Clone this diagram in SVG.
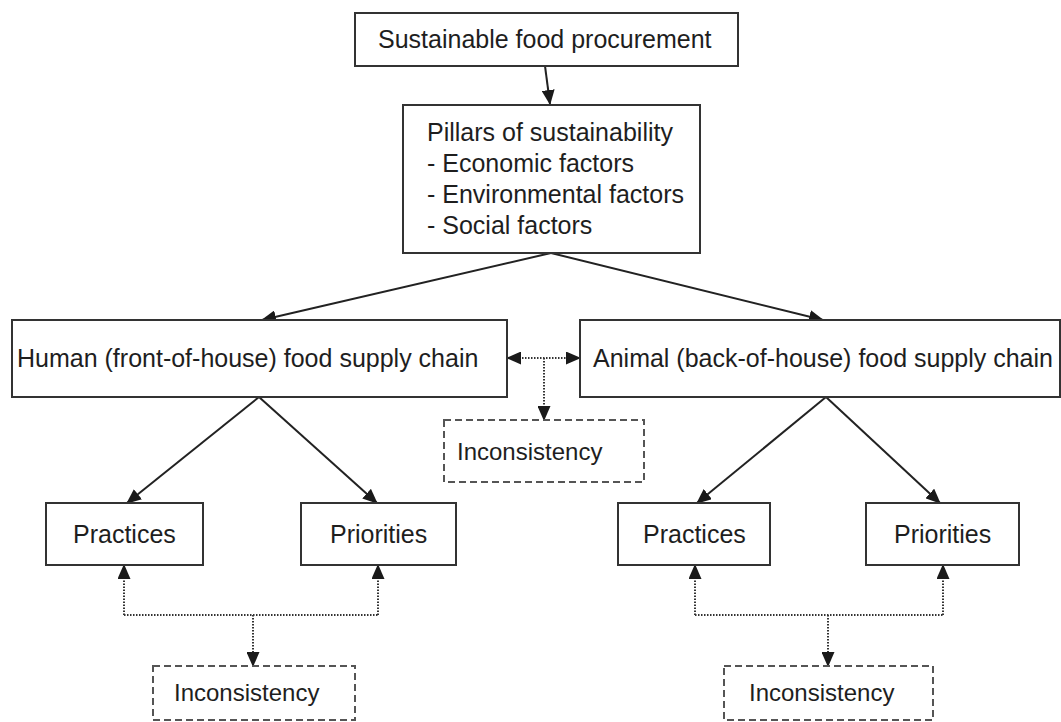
<svg xmlns="http://www.w3.org/2000/svg" width="1061" height="722" viewBox="0 0 1061 722">
<style>
.box{fill:#fff;stroke:#333;stroke-width:2}
.dbox{fill:#fff;stroke:#555;stroke-width:2;stroke-dasharray:7 4}
.t{font-family:"Liberation Sans",Arial,sans-serif;font-size:25px;fill:#1e1e1e}
.ti{font-family:"Liberation Sans",Arial,sans-serif;font-size:24px;fill:#1e1e1e}
.c{fill:none;stroke:#222;stroke-width:2}
.d{fill:none;stroke:#333;stroke-width:2;stroke-dasharray:1.5 1.5}
</style>
<defs>
<marker id="ah" markerUnits="userSpaceOnUse" markerWidth="15" markerHeight="13" refX="14" refY="6.5" orient="auto">
<path d="M0,0 L15,6.5 L0,13 z" fill="#1a1a1a"/>
</marker>
<marker id="ahs" markerUnits="userSpaceOnUse" markerWidth="15" markerHeight="13" refX="14" refY="6.5" orient="auto-start-reverse">
<path d="M0,0 L15,6.5 L0,13 z" fill="#1a1a1a"/>
</marker>
</defs>
<g id="connectors">
<line class="c" x1="545" y1="66" x2="550" y2="104" marker-end="url(#ah)"/>
<line class="c" x1="551" y1="253" x2="262" y2="320" marker-end="url(#ah)"/>
<line class="c" x1="551" y1="253" x2="823" y2="320" marker-end="url(#ah)"/>
<line class="c" x1="259" y1="397" x2="127" y2="503" marker-end="url(#ah)"/>
<line class="c" x1="259" y1="397" x2="377" y2="503" marker-end="url(#ah)"/>
<line class="c" x1="826" y1="397" x2="697" y2="503" marker-end="url(#ah)"/>
<line class="c" x1="826" y1="397" x2="940" y2="503" marker-end="url(#ah)"/>
<line class="d" x1="507" y1="358" x2="580" y2="358" marker-start="url(#ahs)" marker-end="url(#ahs)"/>
<line class="d" x1="544" y1="358" x2="544" y2="420" marker-end="url(#ah)"/>
<line class="d" x1="124" y1="615" x2="124" y2="565" marker-end="url(#ah)"/>
<line class="d" x1="378" y1="615" x2="378" y2="565" marker-end="url(#ah)"/>
<line class="d" x1="124" y1="615" x2="378" y2="615"/>
<line class="d" x1="253" y1="615" x2="253" y2="666" marker-end="url(#ah)"/>
<line class="d" x1="695" y1="615" x2="695" y2="565" marker-end="url(#ah)"/>
<line class="d" x1="943" y1="615" x2="943" y2="565" marker-end="url(#ah)"/>
<line class="d" x1="695" y1="615" x2="943" y2="615"/>
<line class="d" x1="828" y1="615" x2="828" y2="666" marker-end="url(#ah)"/>
</g>
<g id="n-top"><rect class="box" x="355" y="13" width="383" height="53"/><text class="t" x="378" y="48">Sustainable food procurement</text></g>
<g id="n-pillars"><rect class="box" x="403" y="105" width="297" height="148"/>
<text class="t" x="427" y="141">Pillars of sustainability</text>
<text class="t" x="427" y="172">- Economic factors</text>
<text class="t" x="427" y="203">- Environmental factors</text>
<text class="t" x="427" y="234">- Social factors</text></g>
<g id="n-human"><rect class="box" x="12" y="320" width="495" height="77"/><text class="t" x="17" y="367">Human (front-of-house) food supply chain</text></g>
<g id="n-animal"><rect class="box" x="580" y="320" width="480" height="77"/><text class="t" x="593" y="367">Animal (back-of-house) food supply chain</text></g>
<g id="n-inc-mid"><rect class="dbox" x="444" y="420" width="200" height="62"/><text class="ti" x="457" y="460">Inconsistency</text></g>
<g id="n-prac-l"><rect class="box" x="46" y="503" width="157" height="62"/><text class="t" x="73" y="543">Practices</text></g>
<g id="n-prio-l"><rect class="box" x="301" y="503" width="155" height="62"/><text class="t" x="330" y="543">Priorities</text></g>
<g id="n-prac-r"><rect class="box" x="618" y="503" width="152" height="62"/><text class="t" x="643" y="543">Practices</text></g>
<g id="n-prio-r"><rect class="box" x="866" y="503" width="153" height="62"/><text class="t" x="894" y="543">Priorities</text></g>
<g id="n-inc-l"><rect class="dbox" x="153" y="666" width="202" height="54"/><text class="ti" x="174" y="701">Inconsistency</text></g>
<g id="n-inc-r"><rect class="dbox" x="724" y="666" width="209" height="54"/><text class="ti" x="749" y="701">Inconsistency</text></g>
</svg>
